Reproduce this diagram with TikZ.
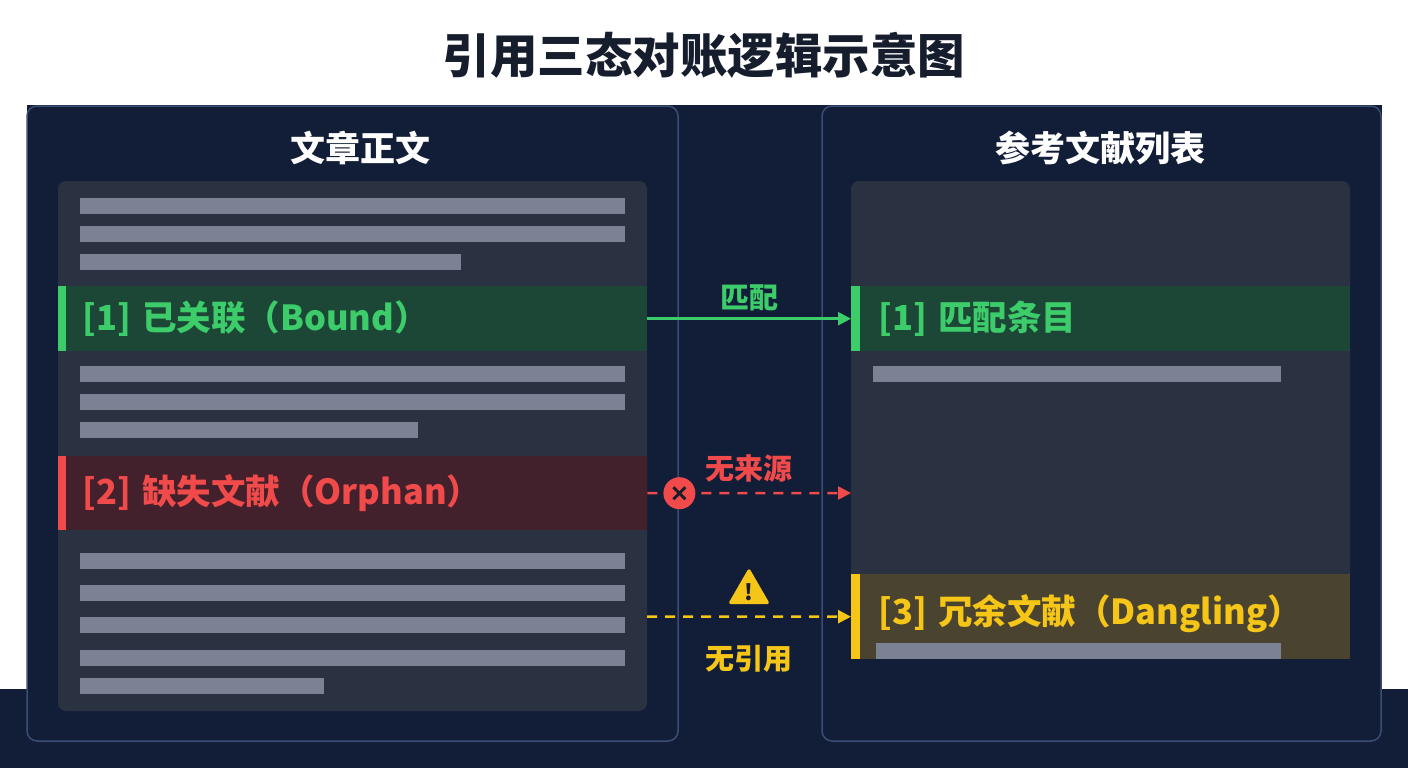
\documentclass[tikz,border=0pt]{standalone}
\usepackage{fontspec}
\setmainfont{Noto Sans CJK SC}
\usetikzlibrary{arrows.meta,calc,shapes.geometric}
\definecolor{navy}{HTML}{121D37}
\definecolor{panelline}{HTML}{3A4D72}
\definecolor{innerbox}{HTML}{2A3242}
\definecolor{txtgray}{HTML}{7A8294}
\definecolor{ttlink}{HTML}{161E2E}
\definecolor{grn}{HTML}{3DCC6A}
\definecolor{grnbg}{HTML}{1C4737}
\definecolor{errred}{HTML}{F04A4A}
\definecolor{errbg}{HTML}{43212C}
\definecolor{ylw}{HTML}{F5C518}
\definecolor{ylwbg}{HTML}{4A4330}
\definecolor{markink}{HTML}{1A1C2A}
\tikzset{
	band/.style={anchor=north west, inner ysep=0pt, align=left, font=\bfseries\fontsize{34.5}{40}\selectfont},
	lbl/.style={font=\bfseries\fontsize{29}{32}\selectfont},
	head/.style={text=white, font=\bfseries\fontsize{35}{40}\selectfont},
	tip/.style={-{Triangle[length=13pt,width=13pt]}, line width=2.5pt},
	dsh/.style={dash pattern=on 10pt off 8pt},
}
\begin{document}
\begin{tikzpicture}[x=1pt,y=-1pt]
			%%%%% START %%%%%
			\useasboundingbox (0,0) rectangle (1408,768);
			\fill[white] (0,0) rectangle (1408,768);
			\fill[navy] (27,105) rectangle (1382,689);
			\fill[navy] (0,689) rectangle (1408,768);
			
			\node[text=ttlink, font=\bfseries\fontsize{47.5}{52}\selectfont] (title) at (704,55) {引用三态对账逻辑示意图};
			
			% two panels
			\draw[fill=navy, draw=panelline, line width=1.5pt, rounded corners=10pt] (27,106) rectangle (678,741);
			\draw[fill=navy, draw=panelline, line width=1.5pt, rounded corners=10pt] (822,106) rectangle (1381,741);
			\node[head] (bodyhead) at (360,148) {文章正文};
			\node[head] (refhead) at (1100,148) {参考文献列表};
			
			\fill[innerbox, rounded corners=8pt] (58,181) rectangle (647,711);
			\fill[innerbox, rounded corners=8pt] (851,181) rectangle (1350,659);
			
			% text lines
			\foreach \y/\e in {198/625, 226/625, 254/461, 366/625, 394/625, 422/418, 553/625, 585/625, 617/625, 650/625, 678/324}
				\fill[txtgray] (80,\y) rectangle (\e,\y+16);
			\fill[txtgray] (873,366) rectangle (1281,382);
			
			% left bands
			\node[band, fill=grnbg, text=grn, minimum height=65pt, inner xsep=24pt, text width=541pt] (bound) at (58,286) {[1] 已关联（Bound）};
			\fill[grn] (bound.north west) rectangle ++(8,65);
			\node[band, fill=errbg, text=errred, minimum height=74pt, inner xsep=24pt, text width=541pt] (orphan) at (58,456) {[2] 缺失文献（Orphan）};
			\fill[errred] (orphan.north west) rectangle ++(8,74);
			
			% right bands
			\node[band, fill=grnbg, text=grn, minimum height=65pt, inner xsep=27pt, text width=445pt] (match) at (851,286) {[1] 匹配条目};
			\fill[grn] (match.north west) rectangle ++(9,65);
			\node[band, fill=ylwbg, text=ylw, minimum height=85pt, inner xsep=27pt, text width=445pt, text depth=14pt] (dangling) at (851,574) {[3] 冗余文献（Dangling）};
			\fill[txtgray] (876,643) rectangle (1281,659);
			\fill[ylw] (dangling.north west) rectangle ++(9,85);
			
			% connectors
			\draw[grn, tip] (bound.east) -- (match.west) node[midway, above=3pt, lbl, text=grn] (matchlbl) {匹配};
			
			\coordinate (nosrc) at (851,493);
			\draw[errred, tip, dsh] (orphan.east) -- (nosrc) node[midway, above=6pt, lbl, text=errred] (nosrclbl) {无来源};
			\node[circle, fill=errred, minimum size=32pt, inner sep=0pt] (xmark) at ($(orphan.east)+(32,0)$) {};
			\draw[markink, line width=2.8pt] ($(xmark)+(-6,-6)$) -- ($(xmark)+(6,6)$);
			\draw[markink, line width=2.8pt] ($(xmark)+(-6,6)$) -- ($(xmark)+(6,-6)$);
			
			\coordinate (norefsrc) at (647,616.5);
			\draw[ylw, tip, dsh] (norefsrc) -- (dangling.west) node[midway, below=24pt, lbl, text=ylw] (noreflbl) {无引用};
			\node[regular polygon, regular polygon sides=3, fill=ylw, rounded corners=3pt, minimum size=46pt, inner sep=0pt, text=markink, font=\bfseries\fontsize{22}{22}\selectfont] (warnsign) at (749,592) {!};
			%%%%% END %%%%%
\end{tikzpicture}
\end{document}
